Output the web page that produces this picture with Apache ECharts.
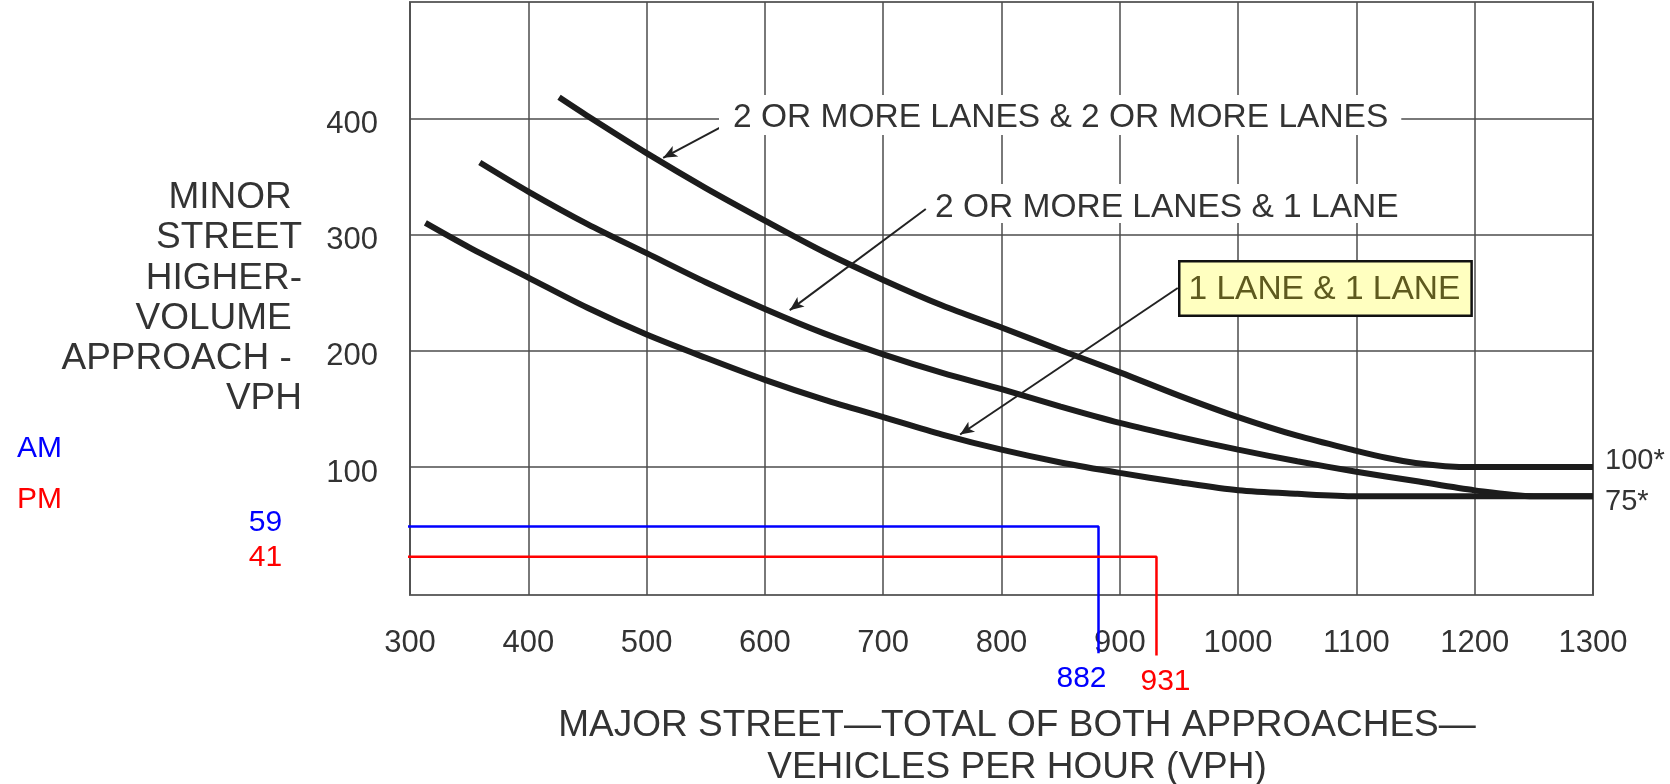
<!DOCTYPE html>
<html>
<head>
<meta charset="utf-8">
<title>Peak hour volume warrant (70% factor)</title>
<script src="https://cdn.jsdelivr.net/npm/echarts@6/dist/echarts.min.js"></script>
<style>
  html, body { margin: 0; padding: 0; background: #fff; }
  #chart { width: 1670px; height: 784px; }
</style>
</head>
<body>
<div id="chart"></div>
<script>
// Axis range and tick labels
const xMin = 300, xMax = 1300, xStep = 100
const yMin = -10, yMax = 500
const yTicks = [100, 200, 300, 400]

// 2 OR MORE LANES & 2 OR MORE LANES
const twoTwoX = [426, 450, 500, 550, 600, 650, 700, 750, 800, 850, 900, 950, 1000, 1050, 1100, 1125, 1150, 1175, 1200, 1300]
const twoTwoY = [418, 402, 370, 340, 312, 285, 261, 239, 220, 200.5, 181.5, 161.5, 143, 127, 114, 108, 103.5, 100.8, 100, 100]

// 2 OR MORE LANES & 1 LANE
const twoOneX = [359, 400, 450, 500, 550, 600, 650, 700, 750, 800, 850, 900, 950, 1000, 1050, 1100, 1150, 1200, 1250, 1300]
const twoOneY = [362, 337, 309, 284, 259, 236, 215, 197, 181, 167, 152, 138, 126, 115, 105, 96, 88, 80, 75, 75]

// 1 LANE & 1 LANE
const oneOneX = [313, 350, 400, 450, 500, 550, 600, 650, 700, 750, 800, 850, 900, 950, 1000, 1050, 1100, 1300]
const oneOneY = [310, 289, 263, 237, 214, 194, 175, 158, 143, 128, 115, 104, 95, 87, 80, 77, 75, 75]

// AM / PM counts as written on the picture
const amText = [882, 59]
const pmText = [931, 41]
// where the hand drawn guide lines actually sit on the axes
const amGuideX = [202, 882, 882]
const amGuideY = [49, 49, -60]
const pmGuideX = [202, 931, 931]
const pmGuideY = [23, 23, -62]

const pairs = (xs, ys) => xs.map((x, i) => [x, ys[i]])

const font = 'Liberation Sans, Arial, Helvetica, sans-serif'
const ink = '#333'
const curveColor = '#1c1c1c'

// arrows from the labels to the curves (tail -> head, data coords)
const arrows = [
  [[564, 393], [514, 366]],
  [[736, 322], [621, 235]],
  [[949, 254], [765, 128]]
]

const guideSeries = (name, xs, ys, txt, color, offLeft, offBottom) => {
  const d = pairs(xs, ys)
  return {
    name: name,
    type: 'line',
    clip: false,
    symbol: 'circle',
    symbolSize: 0,
    showSymbol: true,
    itemStyle: { color: color },
    lineStyle: { color: color, width: 2.5 },
    z: 3,
    data: [
      { value: d[0], label: { show: true, position: 'left', distance: 12, offset: offLeft, formatter: String(txt[1]) } },
      d[1],
      { value: d[2], label: { show: true, position: 'bottom', distance: 11, offset: offBottom, formatter: String(txt[0]) } }
    ],
    label: { color: color, fontSize: 30, fontFamily: font }
  }
}

const chart = echarts.init(document.getElementById('chart'))
chart.setOption({
  animation: false,
  backgroundColor: '#fff',
  grid: {
    left: 410, right: 77, top: 2, bottom: 189,
    outerBoundsMode: 'none',
    show: true, borderColor: '#666', borderWidth: 2
  },
  xAxis: {
    type: 'value',
    min: xMin, max: xMax, interval: xStep,
    axisLine: { show: false },
    axisTick: { show: false },
    axisLabel: { margin: 33, fontSize: 31, color: ink, fontFamily: font, formatter: v => String(v) },
    splitLine: { show: true, lineStyle: { color: '#4d4d4d', width: 1.5 } },
    name: 'MAJOR STREET\u2014TOTAL OF BOTH APPROACHES\u2014\nVEHICLES PER HOUR (VPH)',
    nameLocation: 'middle',
    nameGap: 110,
    nameTextStyle: { fontSize: 37, lineHeight: 42, color: ink, fontFamily: font, padding: [0, 0, 0, 31] }
  },
  yAxis: {
    type: 'value',
    min: yMin, max: yMax,
    axisLine: { show: false },
    axisTick: { show: false, customValues: yTicks },
    axisLabel: { customValues: yTicks, margin: 32, fontSize: 31, color: ink, fontFamily: font, verticalAlign: 'top', lineHeight: 12 },
    splitLine: { show: true, lineStyle: { color: '#4d4d4d', width: 1.5 } },
    name: 'MINOR \nSTREET\nHIGHER-\nVOLUME \nAPPROACH - \nVPH',
    nameLocation: 'middle',
    nameRotate: 0,
    nameGap: 108,
    nameTextStyle: { fontSize: 37, lineHeight: 40.3, color: ink, fontFamily: font, align: 'right' }
  },
  series: [
    {
      name: '2 OR MORE LANES & 2 OR MORE LANES',
      type: 'line',
      smooth: 0.3,
      showSymbol: false,
      lineStyle: { color: curveColor, width: 6 },
      z: 4,
      data: pairs(twoTwoX, twoTwoY),
      endLabel: { show: true, formatter: '100*', distance: 12, offset: [0, -6], fontSize: 29, color: ink, fontFamily: font },
      markLine: {
        silent: true,
        symbol: ['none', 'arrow'],
        symbolSize: [9, 14],
        label: { show: false },
        lineStyle: { color: '#222', width: 2, type: 'solid' },
        data: arrows.map(a => [{ coord: a[0] }, { coord: a[1] }])
      }
    },
    {
      name: '2 OR MORE LANES & 1 LANE',
      type: 'line',
      smooth: 0.3,
      showSymbol: false,
      lineStyle: { color: curveColor, width: 6 },
      z: 4,
      data: pairs(twoOneX, twoOneY)
    },
    {
      name: '1 LANE & 1 LANE',
      type: 'line',
      smooth: 0.3,
      showSymbol: false,
      lineStyle: { color: curveColor, width: 6 },
      z: 4,
      data: pairs(oneOneX, oneOneY),
      endLabel: { show: true, formatter: '75*', distance: 12, offset: [0, 6], fontSize: 29, color: ink, fontFamily: font }
    },
    guideSeries('AM', amGuideX, amGuideY, amText, '#0000ff', [0, -4], [-17, 0]),
    guideSeries('PM', pmGuideX, pmGuideY, pmText, '#ff0000', [0, 1], [9, 0])
  ],
  graphic: [
    {
      type: 'text', left: 719, top: 95, z: 50,
      style: {
        text: '2 OR MORE LANES & 2 OR MORE LANES', fill: ink,
        font: '33.5px ' + font, lineHeight: 30,
        backgroundColor: '#fff', padding: [8, 13, 2, 14]
      }
    },
    {
      type: 'text', left: 928, top: 184, z: 50,
      style: {
        text: '2 OR MORE LANES & 1 LANE', fill: ink,
        font: '33.5px ' + font, lineHeight: 29,
        backgroundColor: '#fff', padding: [9, 8, 1, 7]
      }
    },
    {
      type: 'text', left: 1178, top: 260, z: 50,
      style: {
        text: '1 LANE & 1 LANE', fill: '#5e5a1e',
        font: '33.5px ' + font, lineHeight: 30,
        backgroundColor: '#ffffc0', borderColor: '#111', borderWidth: 2.5,
        padding: [12, 10, 10, 8]
      }
    },
    {
      type: 'text', left: 17, top: 434, z: 50,
      style: { text: 'AM', fill: '#0000ff', font: '30px ' + font }
    },
    {
      type: 'text', left: 17, top: 485, z: 50,
      style: { text: 'PM', fill: '#ff0000', font: '30px ' + font }
    }
  ]
})
</script>
</body>
</html>
